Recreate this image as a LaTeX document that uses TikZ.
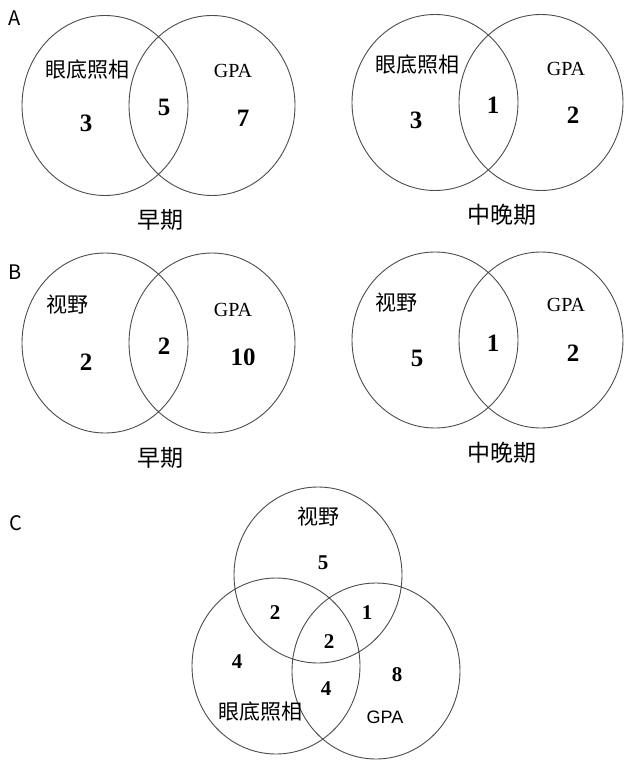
\documentclass[tikz,border=0pt]{standalone}
\usepackage{fontspec}
\setmainfont{Liberation Serif}
\newfontfamily\cjk{Noto Sans CJK SC}
\newfontfamily\arial{Liberation Sans}
\tikzset{
  ring/.style={draw=black!70, line width=0.9pt},
  tag/.style={font=\cjk\fontsize{21}{21}\selectfont, inner sep=0pt},
  grp/.style={font=\cjk\fontsize{23}{23}\selectfont, inner sep=0pt},
  num/.style={font=\bfseries\fontsize{25}{25}\selectfont, inner sep=0pt},
  numc/.style={font=\bfseries\fontsize{21}{21}\selectfont, inner sep=0pt},
  gpa/.style={font=\fontsize{20}{20}\selectfont, inner sep=0pt},
  panel/.style={font=\cjk\fontsize{20}{20}\selectfont, inner sep=0pt}
}
\begin{document}
\begin{tikzpicture}[x=1pt, y=-1pt, line join=round, line cap=round]
			\useasboundingbox (0,0) rectangle (624,760);
			% A
			\draw[ring]
			(105,105.5) circle [x radius=83, y radius=90]
			(212,105.5) circle [x radius=83, y radius=90]
			(435,102.5) circle [x radius=83, y radius=88]
			(541,102.5) circle [x radius=82, y radius=88]
			;
			\path
			(15,18) node[panel] (labA) {A}
			(87,70) node[tag] (a1t) {眼底照相}
			(86,123) node[num] (a1x) {3}
			(164,107) node[num] (a1y) {5}
			(233,71) node[gpa] (a1g) {GPA}
			(243,118) node[num] (a1z) {7}
			(160,220) node[grp] (a1n) {早期}
			(417,65) node[tag] (a2t) {眼底照相}
			(416,120) node[num] (a2x) {3}
			(493,105) node[num] (a2y) {1}
			(566,69) node[gpa] (a2g) {GPA}
			(573,115) node[num] (a2z) {2}
			(502,215) node[grp] (a2n) {中晚期}
			;
			% B
			\draw[ring]
			(105,343) circle [x radius=83, y radius=90]
			(212,343) circle [x radius=83, y radius=90]
			(435,340) circle [x radius=83, y radius=88]
			(541,340) circle [x radius=82, y radius=88]
			;
			\path
			(15,272) node[panel] (labB) {B}
			(67,305) node[tag] (b1t) {视野}
			(86,362) node[num] (b1x) {2}
			(164,346) node[num] (b1y) {2}
			(233,310) node[gpa] (b1g) {GPA}
			(243,357) node[num] (b1z) {10}
			(160,458) node[grp] (b1n) {早期}
			(396,303) node[tag] (b2t) {视野}
			(417,358) node[num] (b2x) {5}
			(493,343) node[num] (b2y) {1}
			(566,305) node[gpa] (b2g) {GPA}
			(573,353) node[num] (b2z) {2}
			(502,453) node[grp] (b2n) {中晚期}
			;
			% C
			\draw[ring]
			(318,575) circle [x radius=84, y radius=88]
			(276,666) circle [x radius=84, y radius=88]
			(376,671) circle [x radius=84, y radius=88]
			;
			\path
			(16,523) node[panel] (labC) {C}
			(318,517) node[tag] (ct) {视野}
			(323,563) node[numc] (c1) {5}
			(275,613) node[numc] (c2) {2}
			(367,613) node[numc] (c3) {1}
			(329,642) node[numc] (c4) {2}
			(237,662) node[numc] (c5) {4}
			(397,675) node[numc] (c6) {8}
			(326,689) node[numc] (c7) {4}
			(260,712) node[tag] (cb) {眼底照相}
			(385,717) node[gpa, font=\arial\fontsize{18}{18}\selectfont] (cg) {GPA}
			;
		\end{tikzpicture}
\end{document}
